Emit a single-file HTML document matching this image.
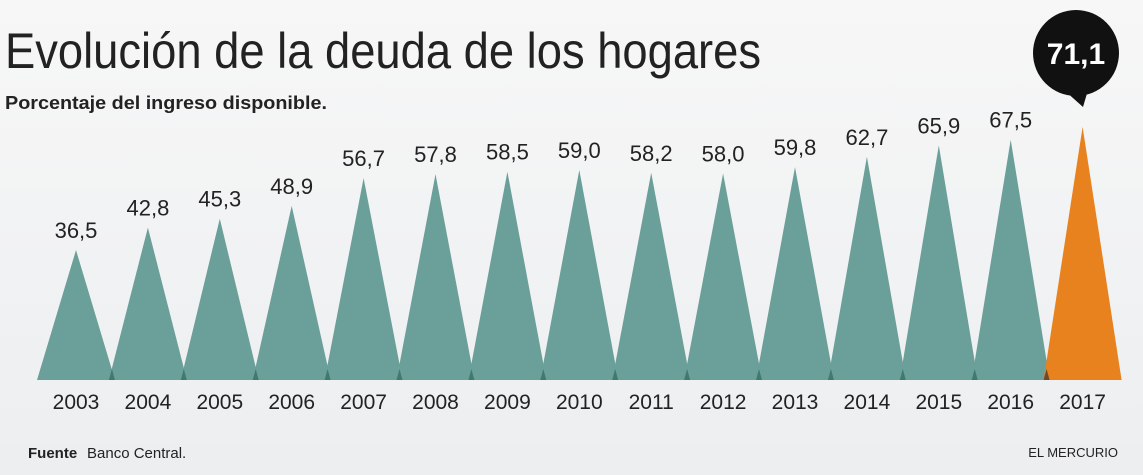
<!DOCTYPE html><html><head><meta charset="utf-8"><style>
body{margin:0;width:1143px;height:475px;overflow:hidden;background:linear-gradient(#f7f7f7,#eceef0);font-family:"Liberation Sans",sans-serif}
</style></head><body>
<svg width="1143" height="475" xmlns="http://www.w3.org/2000/svg" style="position:absolute;left:0;top:0">
<text x="5" y="68" font-size="50" fill="#222" textLength="756" lengthAdjust="spacingAndGlyphs">Evolución de la deuda de los hogares</text>
<text x="5" y="109" font-size="18" font-weight="bold" fill="#222" textLength="322" lengthAdjust="spacingAndGlyphs">Porcentaje del ingreso disponible.</text>
<g id="bars"></g>
<circle cx="1076" cy="53" r="43" fill="#111"/>
<polygon points="1064,90 1088,90 1083,107" fill="#111"/>
<text x="1076" y="64" font-size="30" font-weight="bold" fill="#fff" text-anchor="middle">71,1</text>
<text x="28" y="458" font-size="15" font-weight="bold" fill="#222">Fuente</text>
<text x="87" y="458" font-size="15" fill="#222">Banco Central.</text>
<text x="1118" y="457" font-size="13" fill="#222" text-anchor="end">EL MERCURIO</text>
</svg>
<script>
var v=[36.5,42.8,45.3,48.9,56.7,57.8,58.5,59.0,58.2,58.0,59.8,62.7,65.9,67.5,71.1];
var g=document.getElementById('bars'),s='';
for(var i=0;i<15;i++){var c=76+i*71.9,t=380-3.56*v[i];
var col=i==14?'#e8821e':'#6b9f99';
s+='<polygon points="'+(c-39)+',380 '+c+','+t+' '+(c+39)+',380" fill="'+col+'"/>';
if(i>0)s+='<polygon points="'+(c-39)+',380 '+(c-36)+',369 '+(c-33)+',380" fill="'+(i==14?'#6e4a2a':'#3f7a6e')+'"/>';
if(i<14)s+='<text x="'+c+'" y="'+(t-12)+'" font-size="22" fill="#222" text-anchor="middle">'+v[i].toFixed(1).replace('.',',')+'</text>';
s+='<text x="'+c+'" y="409" font-size="21" fill="#222" text-anchor="middle">'+(2003+i)+'</text>';}
g.innerHTML=s;
</script>
</body></html>
